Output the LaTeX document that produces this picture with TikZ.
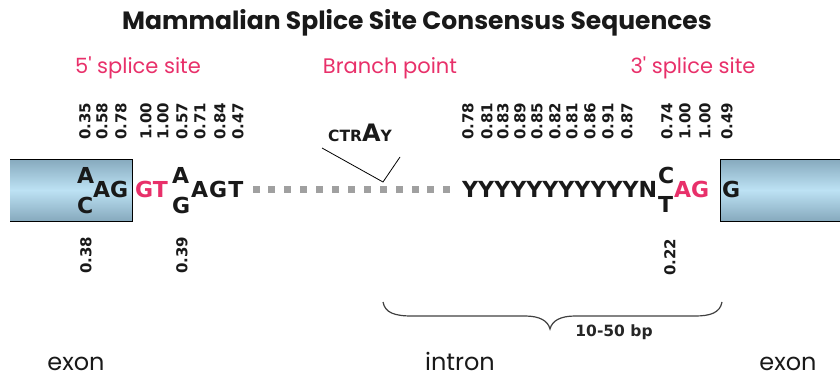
\documentclass[tikz,border=0pt]{standalone}
\usepackage{fontspec}
\setmainfont{DejaVu Sans}
\newfontfamily\comic{Poppins}
\definecolor{pinkred}{HTML}{E8306A}
\definecolor{boxedge}{HTML}{86A9BD}
\definecolor{boxmid}{HTML}{BDE2F4}
\definecolor{dotgray}{HTML}{A0A0A0}
\tikzset{
  seq/.style={inner sep=0pt, anchor=base west, font=\fontsize{22}{22}\selectfont\bfseries, text=black!90},
  pinkseq/.style={seq, text=pinkred},
  num/.style={inner sep=0pt, anchor=west, rotate=90, font=\fontsize{15}{15}\selectfont\bfseries, text=black!90},
  heading/.style={inner sep=0pt, font=\comic\fontsize{21}{21}\selectfont, text=pinkred},
  region/.style={inner sep=0pt, anchor=base, font=\comic\fontsize{24}{24}\selectfont, text=black!90},
  exonbox/.style={top color=boxedge, bottom color=boxedge, middle color=boxmid, shading angle=0},
  dot/.style={fill=dotgray, minimum size=7pt, inner sep=0pt, draw=none},
}
\begin{document}
\begin{tikzpicture}[x=1pt,y=-1pt]
\useasboundingbox (0,0) rectangle (840,377);
% title
\node[inner sep=0pt, font=\comic\fontsize{25}{25}\selectfont\bfseries, text=black!90] (title) at (417,23) {Mammalian Splice Site Consensus Sequences};
\node[heading] (h5) at (138,68) {5' splice site};
\node[heading] (hb) at (390,68) {Branch point};
\node[heading] (h3) at (693,68) {3' splice site};
% exon boxes
\shade[exonbox] (10,159) rectangle (132,221);
\draw[line width=1pt] (10,159) -- (132,159) -- (132,221) -- (10,221);
\shade[exonbox] (720,159) rectangle (840,221);
\draw[line width=1pt] (840,159) -- (720,159) -- (720,221) -- (840,221);
% sequence
\node[seq] (a1) at (77,183) {A};
\node[seq] (c1) at (77,213) {C};
\node[seq] (ag1) at (93,197) {AG};
\node[pinkseq] (gt) at (135,197) {GT};
\node[seq] (a2) at (172,183) {A};
\node[seq] (g2) at (172,213) {G};
\node[seq] (agt) at (191,197) {A\kern1pt G\kern1pt T};
\foreach \i in {0,...,12} {
  \node[dot] (d\i) at (256+15.9*\i,189) {};
}
\node[seq] (ys) at (462,197) {\resizebox{195pt}{!}{YYYYYYYYYYYN}};
\node[seq] (c3) at (658,183) {C};
\node[seq] (t3) at (658,212) {T};
\node[pinkseq] (ag3) at (674,197) {AG};
\node[seq] (g3) at (722,197) {G};
% branch point label
\node[inner sep=0pt, anchor=base west, font=\bfseries, text=black!90] (ctray) at (328,141) {\fontsize{15.5}{15}\selectfont CTR\fontsize{24}{24}\selectfont A\fontsize{15.5}{15}\selectfont Y};
\coordinate (bl) at (322,148);
\coordinate (bv) at (383,182);
\coordinate (br) at (400,157);
\draw[line width=0.8pt] (bl) -- (bv) -- (br);
% top numbers
\foreach \x/\v in {85/0.35,102/0.58,121/0.78,146/1.00,163/1.00,182/0.57,200/0.71,220/0.84,238/0.47,
  468/0.78,487/0.81,503/0.83,520/0.89,537/0.85,555/0.82,572/0.81,590/0.86,608/0.91,627/0.87,
  667/0.74,685/1.00,705/1.00,727/0.49} {
  \node[num] at (\x,140) {\v};
}
% bottom numbers
\node[num] (n1) at (86,274) {0.38};
\node[num] (n2) at (182,274) {0.39};
\node[num] (n3) at (670,276) {0.22};
% brace
\coordinate (brL) at (383,302);
\coordinate (brM) at (550,329);
\coordinate (brR) at (722,302);
\draw[line width=1.2pt, black!75] (brL) .. controls (385,313) and (395,316) .. (412,316) -- (525,316) .. controls (540,316) and (548,321) .. (brM)
  .. controls (552,321) and (560,316) .. (575,316) -- (695,316) .. controls (710,316) and (720,313) .. (brR);
\node[inner sep=0pt, font=\fontsize{15.5}{15}\selectfont\bfseries, text=black!85] (bp) at (614,332) {10-50 bp};
% regions
\node[region] (e1) at (76,370) {exon};
\node[region] (in) at (460,370) {intron};
\node[region] (e2) at (788,370) {exon};
\end{tikzpicture}
\end{document}
